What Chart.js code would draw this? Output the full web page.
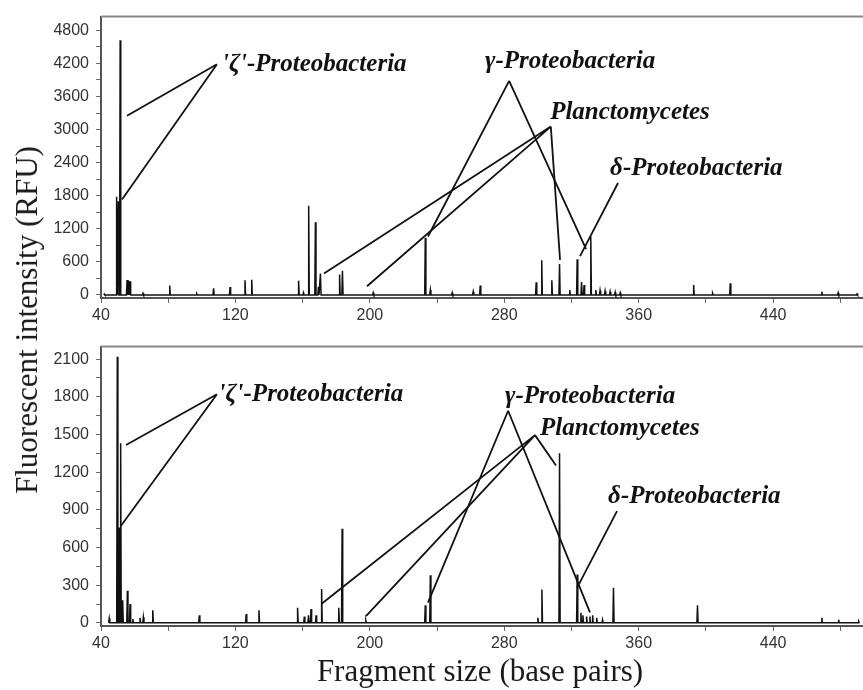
<!DOCTYPE html>
<html>
<head>
<meta charset="utf-8">
<script src="https://cdn.jsdelivr.net/npm/chart.js@4"></script>
<style>
    body { margin: 0; background: #fff; width: 863px; height: 690px; overflow: hidden; position: relative; }
    .box { position: absolute; left: 0; width: 863px; height: 330px; }
    #topBox { top: 0; }
    #botBox { top: 330px; }
    .ttl { position: absolute; font-family: "Liberation Serif", serif; font-size: 31px; color: #1a1a1a; white-space: nowrap; }
    #yTitle { left: 27px; top: 320px; transform: translate(-50%, -50%) rotate(-90deg); }
    #xTitle { left: 480px; top: 671px; transform: translate(-50%, -50%); }
</style>
</head>
<body>
<div class="box" id="topBox"><canvas id="topChart"></canvas></div>
<div class="box" id="botBox"><canvas id="botChart"></canvas></div>
<div class="ttl" id="yTitle">Fluorescent intensity (RFU)</div>
<div class="ttl" id="xTitle">Fragment size (base pairs)</div>
<script>
// fragment sizes (bp) and peak heights (RFU), upper profile
const topSizes = [42, 49.3, 50.3, 51.4, 55.5, 56.4, 57.3, 65, 80.9, 97, 107, 116.8, 125.7, 129.7,
    157.6, 160.5, 163.6, 167.6, 169.4, 170.6, 182, 183.7, 202, 233, 236, 249, 261.5, 265.7,
    299, 302.3, 308.3, 312.9, 319, 323.4, 326, 327.5, 331.5, 334.5, 337, 340, 343, 346, 349,
    392.7, 404, 414.5, 469, 478.7, 490];
const topHeights = [15, 1780, 1700, 4620, 270, 260, 250, 30, 170, 20, 120, 145, 265, 275,
    260, 40, 1620, 1320, 150, 390, 370, 440, 40, 1040, 90, 40, 60, 170,
    230, 630, 265, 560, 90, 650, 235, 180, 1060, 90, 80, 70, 60, 50, 40,
    180, 30, 210, 60, 40, 20];

// lower profile
const botSizes = [44.9, 49.7, 50.8, 51.7, 52.9, 55.7, 57.3, 59, 63.2, 65.2, 70.8, 98.5, 126.4, 134,
    157, 161, 163.5, 165, 168, 171.3, 181.5, 183.5, 197.6, 233, 236, 300, 302.4, 312.9,
    323.4, 325.6, 326.8, 329, 331, 332.6, 335, 338.5, 345, 395, 469, 479, 491];
const botHeights = [35, 2120, 760, 1430, 180, 255, 150, 30, 40, 45, 100, 60, 70, 100,
    120, 50, 60, 110, 60, 270, 120, 750, 20, 140, 380, 40, 265, 1350,
    385, 80, 60, 50, 50, 60, 40, 25, 280, 140, 40, 25, 10];

// axis ticks
const xTicks = [40, 80, 120, 160, 200, 240, 280, 320, 360, 400, 440, 480];
const xLabels = [40, 120, 200, 280, 360, 440];
const topYTicks = [0, 300, 600, 900, 1200, 1500, 1800, 2100, 2400, 2700, 3000, 3300, 3600, 3900, 4200, 4500, 4800];
const topYLabels = [0, 600, 1200, 1800, 2400, 3000, 3600, 4200, 4800];
const botYTicks = [0, 150, 300, 450, 600, 750, 900, 1050, 1200, 1350, 1500, 1650, 1800, 1950, 2100];
const botYLabels = [0, 300, 600, 900, 1200, 1500, 1800, 2100];

// group labels with leader lines, in data units (bp, RFU)
const topNotes = [
    { text: "'ζ'-Proteobacteria", at: [112, 4185], apex: [109, 4185], ends: [[55.5, 3250], [52.5, 1730]] },
    { text: 'γ-Proteobacteria', at: [268.6, 4238], apex: [282.9, 3885], ends: [[234.6, 1060], [328.7, 830]] },
    { text: 'Planctomycetes', at: [307.3, 3302], apex: [307.7, 3055], ends: [[172.7, 388], [198.3, 159], [313.2, 636]] },
    { text: 'δ-Proteobacteria', at: [343, 2296], apex: [347.7, 2031], ends: [[325.1, 706]] },
];
const botNotes = [
    { text: "'ζ'-Proteobacteria", at: [110, 1821], apex: [109, 1821], ends: [[54.9, 1417], [51.9, 774]] },
    { text: 'γ-Proteobacteria', at: [280.5, 1805], apex: [282.3, 1689], ends: [[234.6, 161], [331, 84]] },
    { text: 'Planctomycetes', at: [301.3, 1549], apex: [298.3, 1495], ends: [[171.5, 154], [197.7, 53], [310.8, 1254]] },
    { text: 'δ-Proteobacteria', at: [341.8, 1006], apex: [347.1, 890], ends: [[323.3, 278]] },
];

// each peak as a narrow spike on the baseline
function trace(sizes, heights) {
    const pts = [];
    sizes.forEach((s, i) => {
        pts.push({ x: s - 0.35, y: 0 }, { x: s, y: heights[i] }, { x: s + 0.35, y: 0 });
    });
    return pts;
}

const leaders = {
    id: 'leaders',
    afterDatasetsDraw(chart, args, opts) {
        const { ctx, chartArea } = chart;
        const x = chart.scales.x, y = chart.scales.y;
        ctx.save();
        // frame top edge
        ctx.strokeStyle = '#888';
        ctx.lineWidth = 2;
        ctx.beginPath();
        ctx.moveTo(chartArea.left, chartArea.top);
        ctx.lineTo(chartArea.right, chartArea.top);
        ctx.stroke();

        ctx.strokeStyle = '#111';
        ctx.fillStyle = '#111';
        ctx.lineWidth = 1.8;
        ctx.font = 'bold italic 25px "Liberation Serif", serif';
        ctx.textBaseline = 'middle';
        ctx.textAlign = 'left';
        opts.notes.forEach((n) => {
            const ax = x.getPixelForValue(n.apex[0]);
            const ay = y.getPixelForValue(n.apex[1]);
            ctx.beginPath();
            n.ends.forEach((e) => {
                ctx.moveTo(ax, ay);
                ctx.lineTo(x.getPixelForValue(e[0]), y.getPixelForValue(e[1]));
            });
            ctx.stroke();
            ctx.fillText(n.text, x.getPixelForValue(n.at[0]), y.getPixelForValue(n.at[1]));
        });
        ctx.restore();
    },
};

const tickFont = { family: '"Liberation Sans", Arial, sans-serif', size: 16 };

function makeChart(id, sizes, heights, yMin, yMax, yTicks, yLabels, notes, xAxisH) {
    return new Chart(document.getElementById(id), {
        type: 'line',
        data: {
            datasets: [{
                data: trace(sizes, heights),
                borderColor: '#111',
                borderWidth: 1.5,
                pointRadius: 0,
                tension: 0,
                fill: false,
            }],
        },
        options: {
            responsive: true,
            maintainAspectRatio: false,
            animation: false,
            layout: { padding: { top: 9, left: 0, right: 0, bottom: 0 } },
            plugins: {
                legend: { display: false },
                tooltip: { enabled: false },
                leaders: { notes: notes },
            },
            scales: {
                x: {
                    type: 'linear',
                    min: 40,
                    max: 493.5,
                    afterBuildTicks: (a) => { a.ticks = xTicks.map((v) => ({ value: v })); },
                    afterFit: (s) => { s.height = xAxisH; },
                    ticks: {
                        autoSkip: false,
                        maxRotation: 0,
                        color: '#333',
                        font: tickFont,
                        padding: 3,
                        callback: (v) => (xLabels.includes(v) ? String(v) : ''),
                    },
                    grid: { drawOnChartArea: false, tickLength: 5, color: '#666' },
                    border: { color: '#555', width: 2 },
                },
                y: {
                    min: yMin,
                    max: yMax,
                    afterBuildTicks: (a) => { a.ticks = yTicks.map((v) => ({ value: v })); },
                    afterFit: (s) => { s.width = 101; },
                    ticks: {
                        autoSkip: false,
                        color: '#333',
                        font: tickFont,
                        padding: 7,
                        callback: (v) => (yLabels.includes(v) ? String(v) : ''),
                    },
                    grid: { drawOnChartArea: false, tickLength: 5, color: '#666' },
                    border: { color: '#555', width: 2 },
                },
            },
        },
        plugins: [leaders],
    });
}

makeChart('topChart', topSizes, topHeights, -55, 5050, topYTicks, topYLabels, topNotes, 32);
makeChart('botChart', botSizes, botHeights, -25, 2200, botYTicks, botYLabels, botNotes, 34);
</script>
</body>
</html>
